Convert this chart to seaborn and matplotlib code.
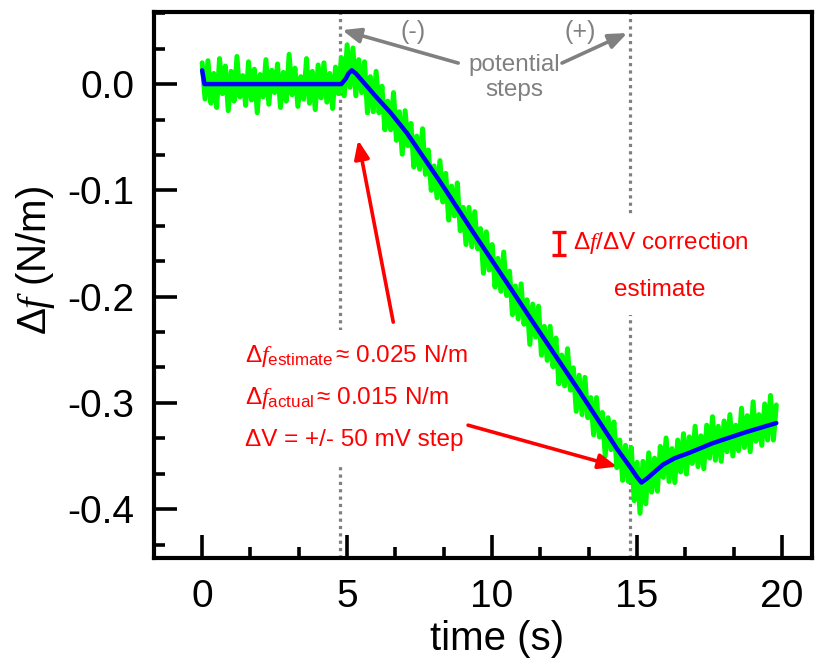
import numpy as np
import pandas as pd
import matplotlib
matplotlib.use("Agg")
import matplotlib.pyplot as plt
from matplotlib.ticker import AutoMinorLocator, FormatStrFormatter
import seaborn as sns

# Raw frequency-shift signal, sampled every 0.1 s (N/m)
sample_interval = 0.1
raw_df = [
    0.020, -0.014, 0.022, -0.018, 0.010, -0.022, 0.024, -0.009, 0.017, -0.025,
    0.012, -0.016, 0.026, -0.012, 0.008, -0.020, 0.021, -0.015, 0.014, -0.027,
    0.009, -0.012, 0.023, -0.019, 0.013, -0.008, 0.019, -0.022, 0.011, -0.016,
    0.028, -0.010, 0.015, -0.021, 0.007, -0.014, 0.024, -0.018, 0.012, -0.024,
    0.018, -0.013, 0.020, -0.017, 0.010, -0.023, 0.016, -0.009, 0.025, -0.011,
    0.037, -0.003, 0.034, -0.011, 0.023, -0.008, 0.021, -0.027, 0.007, -0.026,
    0.012, -0.027, -0.002, -0.043, -0.016, -0.043, -0.008, -0.053, -0.026, -0.066,
    -0.025, -0.058, -0.037, -0.078, -0.049, -0.080, -0.042, -0.085, -0.062, -0.100,
    -0.077, -0.107, -0.072, -0.111, -0.084, -0.128, -0.096, -0.124, -0.093, -0.138,
    -0.116, -0.151, -0.116, -0.153, -0.120, -0.155, -0.136, -0.178, -0.139, -0.175,
    -0.151, -0.191, -0.164, -0.195, -0.158, -0.199, -0.176, -0.217, -0.190, -0.221,
    -0.188, -0.226, -0.203, -0.245, -0.207, -0.238, -0.209, -0.255, -0.228, -0.260,
    -0.228, -0.266, -0.239, -0.282, -0.255, -0.284, -0.249, -0.288, -0.267, -0.308,
    -0.274, -0.311, -0.276, -0.314, -0.295, -0.330, -0.295, -0.332, -0.309, -0.350,
    -0.314, -0.344, -0.318, -0.361, -0.335, -0.373, -0.340, -0.374, -0.342, -0.392,
    -0.356, -0.404, -0.355, -0.395, -0.347, -0.384, -0.352, -0.383, -0.341, -0.370,
    -0.333, -0.374, -0.343, -0.375, -0.335, -0.365, -0.329, -0.367, -0.332, -0.357,
    -0.322, -0.360, -0.331, -0.362, -0.321, -0.352, -0.313, -0.354, -0.322, -0.355,
    -0.317, -0.346, -0.311, -0.350, -0.321, -0.345, -0.305, -0.342, -0.312, -0.346,
    -0.299, -0.336, -0.311, -0.340, -0.301, -0.335, -0.293, -0.335, -0.302,
]
raw_time = np.arange(len(raw_df)) * sample_interval

# Smoothed trace
smooth_time = [0.0, 0.08, 4.8, 4.95, 5.05, 5.16, 5.3, 6.0, 6.5, 7.06, 8.21, 9.36,
               10.73, 11.31, 13.03, 14.3, 14.8, 15.0, 15.15, 15.35, 15.6, 15.9, 16.3,
               16.8, 17.6, 18.7, 19.8]
smooth_df = [0.013, 0.0, 0.0, 0.005, 0.010, 0.013, 0.010, -0.012, -0.027, -0.046,
             -0.092, -0.140, -0.196, -0.220, -0.290, -0.343, -0.362, -0.370, -0.375,
             -0.371, -0.365, -0.358, -0.352, -0.347, -0.338, -0.328, -0.319]

# Potential step times (s)
step_times = [4.77, 14.76]

# Correction estimate bar: centre and half-height (N/m)
corr_t, corr_center, corr_half = 12.32, -0.150, 0.011

x_ticks = [0, 5, 10, 15, 20]
y_ticks = [0.0, -0.1, -0.2, -0.3, -0.4]

sns.set_theme(style="white")
rc = plt.rcParams
rc["font.family"] = ["Liberation Sans", "DejaVu Sans"]
rc["axes.unicode_minus"] = False
rc["mathtext.fontset"] = "custom"
rc["mathtext.rm"] = "Liberation Sans"
rc["mathtext.it"] = "Liberation Serif:italic"
rc["mathtext.bf"] = "Liberation Sans:bold"
for key in ["text.color", "axes.labelcolor", "xtick.color", "ytick.color",
            "xtick.labelcolor", "ytick.labelcolor", "axes.edgecolor"]:
    rc[key] = "black"

fig = plt.figure(figsize=(8.24, 6.69), dpi=100)
ax = fig.add_axes([0.1869, 0.1659, 0.7985, 0.8161])

RED = "#ff0000"
GRAY = "#808080"

for st in step_times:
    ax.axvline(st, color=GRAY, lw=2.3, linestyle=(0, (1, 1.3)), zorder=1)

raw = pd.DataFrame({"t": raw_time, "df": raw_df})
smooth = pd.DataFrame({"t": smooth_time, "df": smooth_df})
sns.lineplot(data=raw, x="t", y="df", color="#00ff00", lw=3.6, ax=ax,
             sort=False, estimator=None, zorder=2)
sns.lineplot(data=smooth, x="t", y="df", color="#0000ff", lw=3.2, ax=ax,
             sort=False, estimator=None, zorder=3, solid_capstyle="round",
             solid_joinstyle="round")

ax.set_xlim(-1.66, 21.03)
ax.set_ylim(-0.446, 0.0678)
ax.set_xticks(x_ticks)
ax.set_yticks(y_ticks)
ax.xaxis.set_minor_locator(AutoMinorLocator(3))
ax.yaxis.set_minor_locator(AutoMinorLocator(3))
ax.yaxis.set_major_formatter(FormatStrFormatter("%.1f"))

for sp in ax.spines.values():
    sp.set_linewidth(3.0)
    sp.set_color("black")
    sp.set_visible(True)

ax.tick_params(axis="both", which="both", direction="in", bottom=True, left=True,
               top=False, right=False, color="black", labelcolor="black")
ax.tick_params(axis="both", which="major", length=16.5, width=2.6, labelsize=28)
ax.tick_params(axis="both", which="minor", length=8, width=2.6)
ax.tick_params(axis="x", which="major", pad=15)
ax.tick_params(axis="y", which="major", pad=14)

ax.set_xlabel("time (s)", fontsize=29, color="black")
ax.set_ylabel(r"$\Delta\mathit{f}$ (N/m)", fontsize=29, color="black")
ax.xaxis.set_label_coords(0.521, -0.114)
ax.yaxis.set_label_coords(-0.148, 0.545)

# potential-step annotation
ax.text(7.28, 0.049, "(-)", color=GRAY, fontsize=18, ha="center", va="center")
ax.text(13.03, 0.049, "(+)", color=GRAY, fontsize=18, ha="center", va="center")
ax.text(10.77, 0.0062, "potential\nsteps", color=GRAY, fontsize=17.5,
        ha="center", va="center", linespacing=1.15)
gray_arrow = dict(arrowstyle="-|>,head_length=1.1,head_width=0.45",
                  color=GRAY, lw=2.6, mutation_scale=10, shrinkA=0, shrinkB=0)
ax.annotate("", xy=(4.83, 0.0508), xytext=(8.83, 0.0198), arrowprops=gray_arrow)
ax.annotate("", xy=(14.66, 0.048), xytext=(12.41, 0.0198), arrowprops=gray_arrow)

# estimate annotation
box = dict(facecolor="white", edgecolor="none", pad=9)
ax.text(1.48, -0.2555,
        r"$\Delta\mathit{f}_{\mathrm{estimate}}\,$" + "\u2248 0.025 N/m",
        color=RED, fontsize=17.5, ha="left", va="center", bbox=box, zorder=4)
ax.text(1.48, -0.2950,
        r"$\Delta\mathit{f}_{\mathrm{actual}}\,$" + "\u2248 0.015 N/m",
        color=RED, fontsize=17.5, ha="left", va="center", bbox=box, zorder=4)
ax.text(1.48, -0.3350, "\u0394V = +/- 50 mV step",
        color=RED, fontsize=17.5, ha="left", va="center", bbox=box, zorder=4)

red_arrow = dict(arrowstyle="-|>,head_length=1.1,head_width=0.45",
                 color=RED, lw=2.6, mutation_scale=10, shrinkA=0, shrinkB=0)
ax.annotate("", xy=(5.38, -0.0527), xytext=(6.59, -0.224), arrowprops=red_arrow,
            zorder=5)
ax.annotate("", xy=(14.31, -0.360), xytext=(9.17, -0.321), arrowprops=red_arrow,
            zorder=5)

# correction estimate
box2 = dict(facecolor="white", edgecolor="none", pad=10)
ax.text(15.83, -0.150, r"$\Delta\mathit{f}/\Delta$V correction", color=RED,
        fontsize=17.5, ha="center", va="center", bbox=box2, zorder=4)
ax.text(15.79, -0.194, "estimate", color=RED, fontsize=17.5, ha="center",
        va="center", bbox=box2, zorder=4)
ax.errorbar([corr_t], [corr_center], yerr=[corr_half], color=RED, elinewidth=2.4,
            capsize=5, capthick=2.4, fmt="none", zorder=6)

fig.savefig("out.png", dpi=100)
